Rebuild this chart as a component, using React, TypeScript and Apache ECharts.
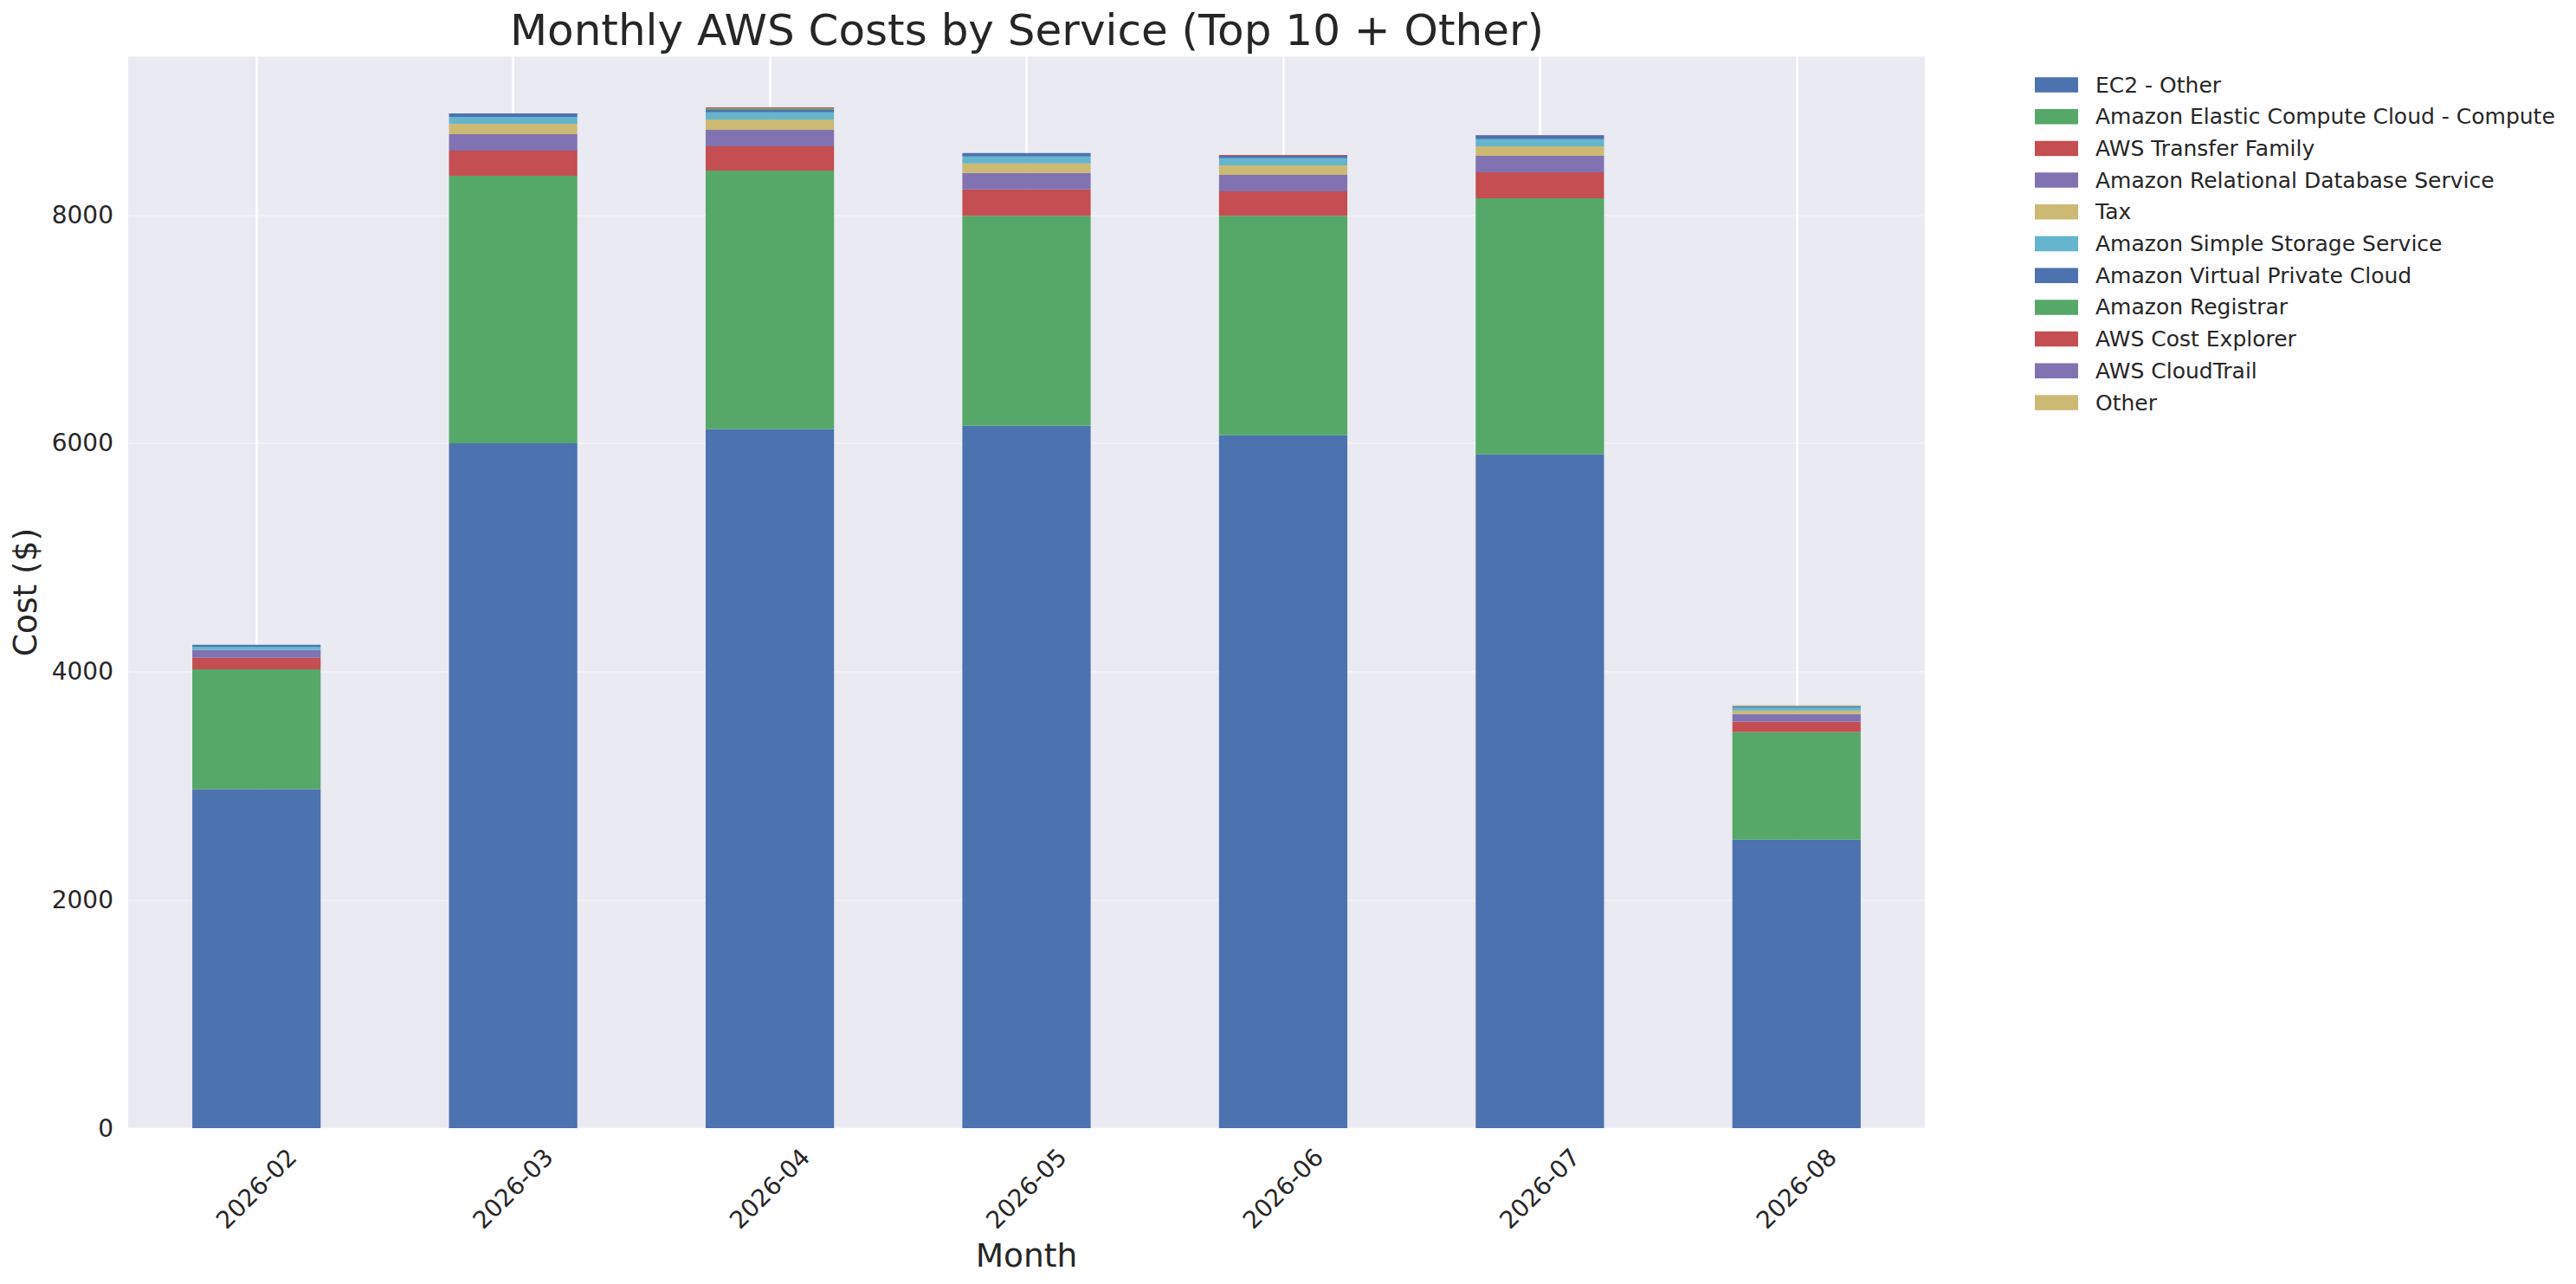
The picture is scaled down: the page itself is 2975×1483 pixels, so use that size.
import React, { useEffect, useRef } from 'react';
import * as echarts from 'echarts';

const months = ['2026-02', '2026-03', '2026-04', '2026-05', '2026-06', '2026-07', '2026-08'];

const serviceNames = [
  'EC2 - Other',
  'Amazon Elastic Compute Cloud - Compute',
  'AWS Transfer Family',
  'Amazon Relational Database Service',
  'Tax',
  'Amazon Simple Storage Service',
  'Amazon Virtual Private Cloud',
  'Amazon Registrar',
  'AWS Cost Explorer',
  'AWS CloudTrail',
  'Other',
];

const ec2Other = [2969, 6000, 6125, 6153, 6070, 5903, 2527];
const ec2Compute = [1051, 2344, 2264, 1840, 1922, 2243, 943];
const transferFamily = [100, 220, 212, 230, 215, 228, 91];
const rds = [68, 144, 145, 144, 144, 144, 66];
const tax = [0, 91, 91, 84, 84, 84, 30];
const s3 = [30, 61, 61, 61, 61, 61, 30];
const vpc = [16, 30, 22, 30, 22, 30, 10];
const registrar = [0, 0, 13, 0, 0, 0, 0];
const costExplorer = [0, 0, 10, 0, 8, 0, 0];
const cloudTrail = [0, 0, 0, 0, 0, 7, 0];
const other = [0, 0, 0, 0, 0, 0, 8];

const serviceValues = [ec2Other, ec2Compute, transferFamily, rds, tax, s3, vpc, registrar, costExplorer, cloudTrail, other];

const yTicks = [0, 2000, 4000, 6000, 8000];
const yMax = 9390;

const palette = ['#4C72B0', '#55A868', '#C44E52', '#8172B2', '#CCB974', '#64B5CD'];
const FONT = 'DejaVu Sans';
const TEXT = '#262626';
// legend patch 50 wide, followed by transparent room so the label starts 70px from the patch's left edge
const LEGEND_ICON = 'path://M0 0H50V17.5H0Z M64.99 8.75H65';

export default function App() {
  const ref = useRef<HTMLDivElement>(null);
  useEffect(() => {
    document.body.style.margin = '0';
    const chart = echarts.init(ref.current!, null, { renderer: 'svg' });
    const barSeries = serviceNames.map((name, i) => ({
      name,
      type: 'bar',
      stack: 'total',
      barWidth: '50%',
      z: 3,
      data: serviceValues[i],
      itemStyle: { color: palette[i % palette.length] },
      emphasis: { disabled: true },
    }));
    const option: any = {
      animation: false,
      backgroundColor: '#ffffff',
      textStyle: { fontFamily: FONT },
      graphic: [
        {
          type: 'text',
          x: 1186,
          y: 35,
          style: {
            text: 'Monthly AWS Costs by Service (Top 10 + Other)',
            fontSize: 50,
            fontFamily: FONT,
            fill: TEXT,
            align: 'center',
            verticalAlign: 'middle',
          },
        },
      ],
      grid: {
        left: 148,
        right: 752,
        top: 65,
        bottom: 180,
        show: true,
        backgroundColor: '#EAEAF2',
        borderWidth: 0,
      },
      legend: {
        data: serviceNames,
        orient: 'vertical',
        left: 2350,
        top: 85.5,
        padding: 0,
        itemGap: 11.7,
        itemWidth: 65,
        itemHeight: 17.5,
        icon: LEGEND_ICON,
        selectedMode: false,
        textStyle: {
          fontFamily: FONT,
          fontSize: 25,
          color: TEXT,
          lineHeight: 25,
        },
      },
      xAxis: {
        type: 'category',
        data: months,
        axisLine: { show: false },
        axisTick: { show: false },
        splitLine: { show: false },
        axisLabel: {
          rotate: 45,
          align: 'center',
          verticalAlign: 'middle',
          margin: 70,
          fontSize: 28,
          color: TEXT,
          fontFamily: FONT,
        },
        name: 'Month',
        nameLocation: 'middle',
        nameGap: 126,
        nameTextStyle: { fontSize: 37.5, lineHeight: 37.5, color: TEXT, fontFamily: FONT },
      },
      yAxis: {
        type: 'value',
        min: yTicks[0],
        max: yMax,
        interval: yTicks[1] - yTicks[0],
        axisLine: { show: false },
        axisTick: { show: false },
        axisLabel: {
          showMaxLabel: false,
          margin: 17,
          fontSize: 28,
          color: TEXT,
          fontFamily: FONT,
          formatter: (v: number) => String(v),
        },
        splitLine: { lineStyle: { color: 'rgba(255,255,255,0.35)', width: 2 } },
        name: 'Cost ($)',
        nameLocation: 'middle',
        nameRotate: 90,
        nameGap: 100,
        nameTextStyle: { fontSize: 37.5, lineHeight: 37.5, color: TEXT, fontFamily: FONT },
      },
      series: [
        {
          name: 'xgrid',
          type: 'line',
          data: [],
          z: 1,
          silent: true,
          markLine: {
            z: 1,
            silent: true,
            symbol: ['none', 'none'],
            label: { show: false },
            lineStyle: { color: '#ffffff', width: 2.5, type: 'solid' },
            data: months.map((m) => ({ xAxis: m })),
          },
        },
        ...barSeries,
      ],
    };
    chart.setOption(option);
    return () => chart.dispose();
  }, []);
  return (
    <div
      ref={ref}
      style={{ position: 'fixed', left: 0, top: 0, width: 2975, height: 1483, background: '#fff' }}
    />
  );
}
